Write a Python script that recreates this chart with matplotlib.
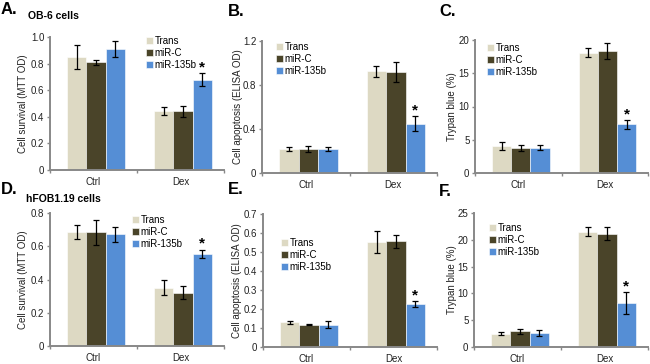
import numpy as np
import matplotlib
matplotlib.use("Agg")
import matplotlib.pyplot as plt

plt.rcParams['font.family'] = ['Liberation Sans', 'DejaVu Sans']

groups = ["Trans", "miR-C", "miR-135b"]
cats = ["Ctrl", "Dex"]
colors = ["#DDD9C3", "#4A4429", "#558ED5"]

# values [group][category], errors same shape
a_val = [[0.85, 0.44], [0.81, 0.44], [0.91, 0.68]]
a_err = [[0.09, 0.03], [0.02, 0.04], [0.06, 0.05]]
b_val = [[0.22, 0.925], [0.22, 0.915], [0.22, 0.45]]
b_err = [[0.02, 0.05], [0.03, 0.09], [0.02, 0.07]]
c_val = [[4.1, 18.1], [3.8, 18.4], [3.8, 7.3]]
c_err = [[0.6, 0.7], [0.45, 1.2], [0.4, 0.7]]
d_val = [[0.685, 0.35], [0.683, 0.32], [0.673, 0.555]]
d_err = [[0.04, 0.045], [0.075, 0.04], [0.045, 0.025]]
e_val = [[0.129, 0.552], [0.118, 0.557], [0.118, 0.226]]
e_err = [[0.006, 0.058], [0.003, 0.034], [0.02, 0.017]]
f_val = [[2.5, 21.5], [2.9, 21.1], [2.6, 8.25]]
f_err = [[0.35, 0.8], [0.5, 1.2], [0.6, 2.0]]

W, H = 650, 364
fig = plt.figure(figsize=(W / 100, H / 100), dpi=100)


def px_axes(x0, x1, ytop, ybot):
    return fig.add_axes([x0 / W, 1 - ybot / H, (x1 - x0) / W, (ybot - ytop) / H])


def panel(box, vals, errs, ymax, yticks, yticklabels, ylabel, ylab_x, leg_xy, letter, letter_xy, title=None):
    ax = px_axes(*box)
    x = np.arange(len(cats))
    w = 0.222
    for i, g in enumerate(groups):
        ax.bar(x + (i - 1) * w + 0.03, vals[i], w, color=colors[i], edgecolor="white",
               linewidth=0.4, label=g, zorder=2)
        ax.errorbar(x + (i - 1) * w + 0.03, vals[i], yerr=errs[i], fmt="none",
                    ecolor="black", elinewidth=0.9, capsize=2, capthick=0.9, zorder=3)
    top = vals[2][1] + errs[2][1]
    ax.annotate("*", (1 + w + 0.03, top), xytext=(0, -1), textcoords="offset points",
                ha="center", va="bottom", fontsize=11, fontweight="bold")
    ax.set_xlim(-0.5, 1.5)
    ax.set_ylim(0, ymax)
    ax.set_yticks(yticks)
    ax.set_yticklabels(yticklabels)
    ax.set_xticks([-0.5, 0.5, 1.5])
    ax.set_xticklabels([])
    ax.set_xticks([0, 1], minor=True)
    ax.set_xticklabels(cats, minor=True)
    ax.tick_params(axis="x", which="minor", length=0, pad=5, labelsize=7, colors="#222222")
    ax.tick_params(axis="x", which="major", length=2.5, width=1, color="#888888")
    ax.tick_params(axis="y", length=2.5, width=1, color="#888888", labelsize=7,
                   labelcolor="#222222", pad=1.5)
    for s in ["top", "right"]:
        ax.spines[s].set_visible(False)
    for s in ["left", "bottom"]:
        ax.spines[s].set_color("#888888")
        ax.spines[s].set_linewidth(1.4)
    fig.text(ylab_x / W, 1 - (box[2] + box[3]) / 2 / H, ylabel, rotation=90,
             ha="center", va="center", fontsize=7, color="#222222")
    ax.legend(loc="upper left", bbox_to_anchor=(leg_xy[0] / W, 1 - leg_xy[1] / H),
              bbox_transform=fig.transFigure, frameon=False, fontsize=7,
              handlelength=0.7, handleheight=0.7, handletextpad=0.2,
              labelspacing=0.2, borderpad=0, borderaxespad=0)
    fig.text(letter_xy[0] / W, 1 - letter_xy[1] / H, letter, fontsize=12,
             fontweight="bold", ha="left", va="center")
    if title:
        fig.text(title[1] / W, 1 - title[2] / H, title[0], fontsize=7.5,
                 fontweight="bold", ha="left", va="center")
    return ax


panel((50, 224, 37, 170), a_val, a_err, 1.0, [0, 0.2, 0.4, 0.6, 0.8, 1.0],
      ["0", "0.2", "0.4", "0.6", "0.8", "1.0"], "Cell survival (MTT OD)", 23,
      (146, 36), "A.", (1, 9), ("OB-6 cells", 28, 16))
panel((262, 437, 41, 173), b_val, b_err, 1.2, [0, 0.4, 0.8, 1.2],
      ["0", "0.4", "0.8", "1.2"], "Cell apoptosis (ELISA OD)", 238,
      (276, 42), "B.", (228, 11))
panel((475, 648, 40, 173), c_val, c_err, 20, [0, 5, 10, 15, 20],
      ["0", "5", "10", "15", "20"], "Trypan blue (%)", 452,
      (487, 43), "C.", (439, 11))
panel((50, 224, 213, 346), d_val, d_err, 0.8, [0, 0.2, 0.4, 0.6, 0.8],
      ["0", "0.2", "0.4", "0.6", "0.8"], "Cell survival (MTT OD)", 23,
      (132, 215), "D.", (1, 189), ("hFOB1.19 cells", 26, 199))
panel((263, 437, 214, 347), e_val, e_err, 0.7, [0, 0.1, 0.2, 0.3, 0.4, 0.5, 0.6, 0.7],
      ["0", "0.1", "0.2", "0.3", "0.4", "0.5", "0.6", "0.7"], "Cell apoptosis (ELISA OD)", 237,
      (281, 238), "E.", (228, 190))
panel((474, 648, 213, 347), f_val, f_err, 25, [0, 5, 10, 15, 20, 25],
      ["0", "5", "10", "15", "20", "25"], "Trypan blue (%)", 452,
      (489, 223), "F.", (439, 191))

fig.savefig("out.png", dpi=100)
